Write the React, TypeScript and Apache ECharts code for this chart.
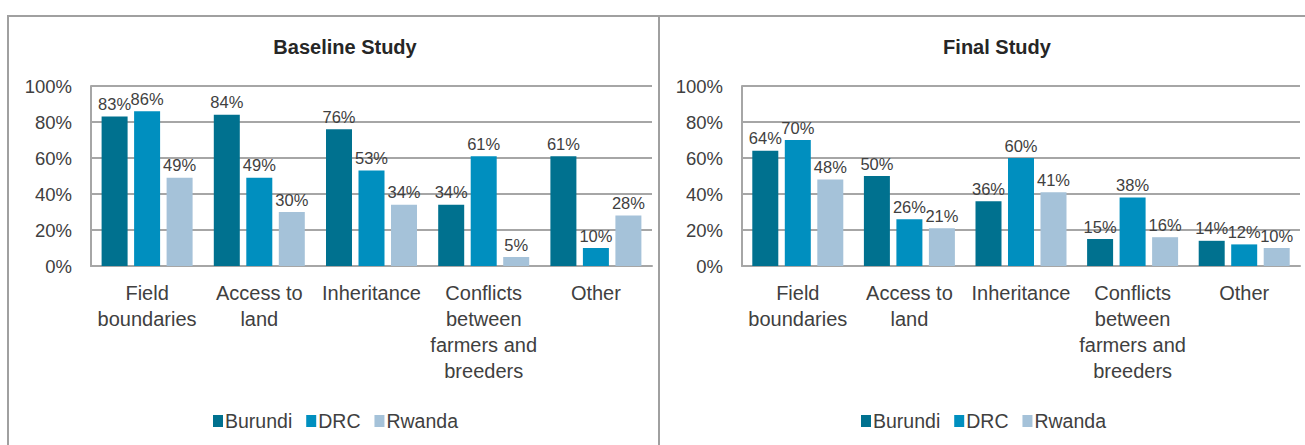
import React, { useEffect, useRef } from "react";
import * as echarts from "echarts";

const categories = [
  "Field\nboundaries",
  "Access to\nland",
  "Inheritance",
  "Conflicts\nbetween\nfarmers and\nbreeders",
  "Other",
];
const countries = ["Burundi", "DRC", "Rwanda"];
const baselineBurundi = [83, 84, 76, 34, 61];
const baselineDRC = [86, 49, 53, 61, 10];
const baselineRwanda = [49, 30, 34, 5, 28];
const finalBurundi = [64, 50, 36, 15, 14];
const finalDRC = [70, 26, 60, 38, 12];
const finalRwanda = [48, 21, 41, 16, 10];
const yTicks = [0, 20, 40, 60, 80, 100];

const COLORS = ["#00718F", "#008FBF", "#A5C2D9"];
const FONT = '"Liberation Sans", Arial, sans-serif';
const TEXT = "#404040";
const GRID = "#A6A6A6";

export default function App() {
  const ref = useRef<HTMLDivElement>(null);
  useEffect(() => {
    if (!ref.current) return;
    const chart = echarts.init(ref.current, undefined, { renderer: "svg" });
    const grids = [
      { left: 91, right: 653, top: 86, bottom: 179 },
      { left: 742, right: 5, top: 86, bottom: 179 },
    ];
    const xAxes = grids.map((_, i) => ({
      type: "category",
      gridIndex: i,
      data: categories,
      axisTick: { show: false },
      axisLine: { show: true, lineStyle: { color: GRID, width: 2 } },
      axisLabel: {
        interval: 0,
        margin: 14,
        fontFamily: FONT,
        fontSize: 20,
        lineHeight: 26,
        color: TEXT,
      },
    }));
    const yAxes = grids.map((_, i) => ({
      type: "value",
      gridIndex: i,
      min: yTicks[0],
      max: yTicks[yTicks.length - 1],
      interval: yTicks[1] - yTicks[0],
      axisTick: { show: false },
      axisLine: { show: true, lineStyle: { color: GRID, width: 2 } },
      splitLine: { show: true, lineStyle: { color: GRID, width: 2 } },
      axisLabel: {
        formatter: "{value}%",
        margin: 19,
        fontFamily: FONT,
        fontSize: 18.5,
        color: TEXT,
      },
    }));
    const sets = [
      [baselineBurundi, baselineDRC, baselineRwanda],
      [finalBurundi, finalDRC, finalRwanda],
    ];
    const series: any[] = [];
    sets.forEach((set, gi) => {
      set.forEach((vals, si) => {
        series.push({
          type: "bar",
          name: countries[si],
          xAxisIndex: gi,
          yAxisIndex: gi,
          data: vals,
          barWidth: 26,
          barGap: "25%",
          itemStyle: { color: COLORS[si] },
          label: {
            show: true,
            position: "top",
            distance: 4,
            formatter: "{c}%",
            fontFamily: FONT,
            fontSize: 16.5,
            color: TEXT,
          },
        });
      });
    });
    const legendBase = {
      data: countries,
      icon: "rect",
      itemWidth: 10,
      itemHeight: 12,
      itemGap: 14,
      orient: "horizontal",
      top: 406,
      textStyle: { fontFamily: FONT, fontSize: 19.5, color: TEXT, padding: [0, 0, 0, -3] },
    };
    chart.setOption({
      animation: false,
      backgroundColor: "#ffffff",
      title: [
        {
          text: "Baseline Study",
          left: 340,
          top: 32,
          textAlign: "center",
          textStyle: { fontFamily: FONT, fontSize: 20, fontWeight: "bold", color: "#262626" },
        },
        {
          text: "Final Study",
          left: 992,
          top: 32,
          textAlign: "center",
          textStyle: { fontFamily: FONT, fontSize: 20, fontWeight: "bold", color: "#262626" },
        },
      ],
      legend: [
        { ...legendBase, left: 208 },
        { ...legendBase, left: 856 },
      ],
      grid: grids,
      xAxis: xAxes,
      yAxis: yAxes,
      series,
      graphic: [
        {
          type: "rect",
          shape: { x: 8, y: 16, width: 651, height: 460 },
          style: { fill: "none", stroke: "#A0A0A0", lineWidth: 2 },
          z: -1,
        },
        {
          type: "rect",
          shape: { x: 659, y: 16, width: 660, height: 460 },
          style: { fill: "none", stroke: "#A0A0A0", lineWidth: 2 },
          z: -1,
        },
      ],
    });
    return () => chart.dispose();
  }, []);
  return (
    <div
      ref={ref}
      style={{ position: "fixed", left: 0, top: 0, width: 1305, height: 445, background: "#fff" }}
    />
  );
}
